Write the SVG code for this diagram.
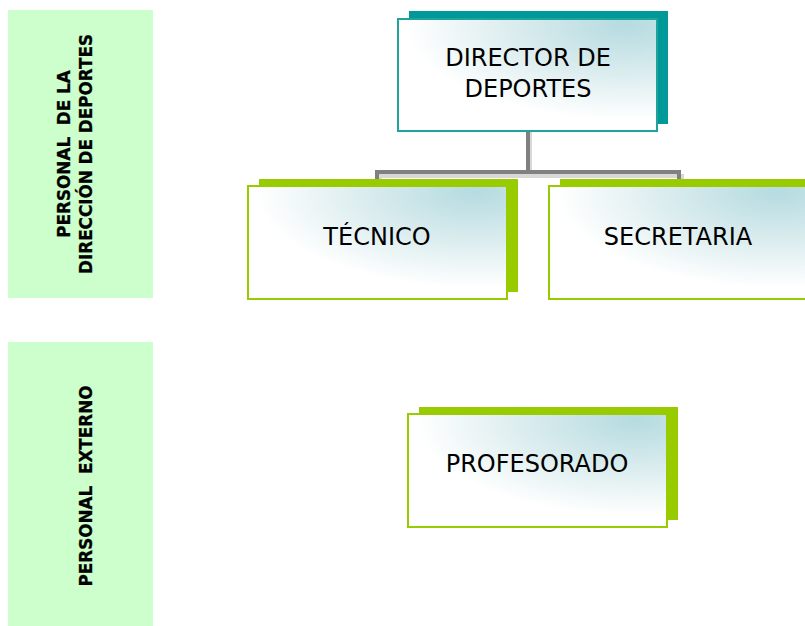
<svg xmlns="http://www.w3.org/2000/svg" width="805" height="626" viewBox="0 0 805 626">
<style>
.panel{fill:#ccffcc}
.vt{font-family:"DejaVu Sans","Liberation Sans",sans-serif;font-weight:bold;font-size:16.8px;fill:#000;stroke:#000;stroke-width:0.3;text-anchor:middle;white-space:pre}
.bt{font-family:"DejaVu Sans","Liberation Sans",sans-serif;font-size:24px;fill:#000;text-anchor:middle}
.box{fill:url(#g)}
.teal{stroke:#21a39c;stroke-width:2}
.green{stroke:#99cc00;stroke-width:2}
.conn{fill:none;stroke:#808080;stroke-width:4;stroke-linejoin:miter}
.connsh{fill:none;stroke:#d8d8d8;stroke-width:4}
</style>
<defs>
<radialGradient id="g" cx="0.88" cy="0.05" r="1.0" fx="0.88" fy="0.05">
<stop offset="0" stop-color="#b5dbe0"/>
<stop offset="0.45" stop-color="#dcedef"/>
<stop offset="0.85" stop-color="#ffffff"/>
</radialGradient>
</defs>
<rect width="805" height="626" fill="#ffffff"/>
<g id="panel-direccion">
<rect class="panel" x="8" y="10" width="145" height="288"/>
<text class="vt" transform="translate(70,154) rotate(-90)">PERSONAL  DE LA</text>
<text class="vt" transform="translate(92,154) rotate(-90)">DIRECCIÓN DE DEPORTES</text>
</g>
<g id="panel-externo">
<rect class="panel" x="8" y="342" width="145" height="284"/>
<text class="vt" transform="translate(92,486) rotate(-90)">PERSONAL  EXTERNO</text>
</g>
<g id="connectors">
<path class="connsh" d="M530 131 V174 M378 176 H682 V180 M380 176 V180"/>
<path class="conn" d="M528 131 V172 M377 180 V172 H679 V180"/>
</g>
<g id="director">
<rect x="409" y="11" width="259" height="113" fill="#009999"/>
<rect class="box teal" x="398" y="19" width="259" height="112"/>
<text class="bt" x="528" y="66">DIRECTOR DE</text>
<text class="bt" x="528" y="97">DEPORTES</text>
</g>
<g id="tecnico">
<rect x="259" y="179" width="259" height="113" fill="#99cc00"/>
<rect class="box green" x="248" y="186" width="259" height="113"/>
<text class="bt" x="377" y="245">TÉCNICO</text>
</g>
<g id="secretaria">
<rect x="560" y="179" width="259" height="113" fill="#99cc00"/>
<rect class="box green" x="549" y="186" width="259" height="113"/>
<text class="bt" x="678" y="245">SECRETARIA</text>
</g>
<g id="profesorado">
<rect x="419" y="407" width="259" height="113" fill="#99cc00"/>
<rect class="box green" x="408" y="414" width="259" height="113"/>
<text class="bt" x="537" y="472">PROFESORADO</text>
</g>
</svg>
